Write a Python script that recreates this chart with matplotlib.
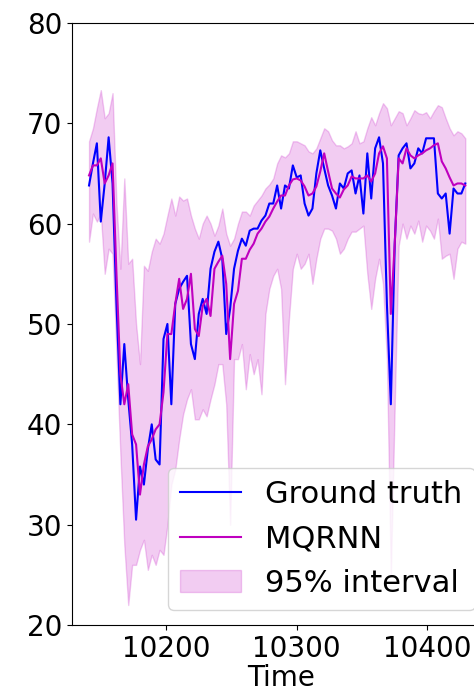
import numpy as np
import matplotlib
matplotlib.use('Agg')
import matplotlib.pyplot as plt

# time axis: one reading every 3 steps
time = np.arange(10141, 10430, 3)

ground_truth = [63.8, 66.0, 68.0, 60.2, 64.0, 68.6, 64.0, 52.0, 42.0, 48.0,
                42.5, 38.0, 30.5, 35.8, 34.0, 37.5, 40.0, 36.5, 36.0, 48.5,
                50.0, 42.0, 52.0, 53.5, 54.2, 54.8, 48.0, 46.5, 51.0, 52.5,
                51.0, 55.5, 57.2, 58.2, 56.5, 49.0, 51.5, 55.5, 57.3, 58.5,
                57.8, 59.3, 59.5, 59.5, 60.3, 60.8, 62.0, 62.0, 63.8, 61.5,
                63.8, 63.5, 65.8, 64.6, 64.8, 62.0, 60.8, 61.5, 65.0, 67.3,
                65.5, 63.8, 62.8, 61.5, 64.0, 63.5, 65.0, 65.3, 63.0, 64.8,
                61.0, 67.0, 62.5, 67.5, 68.6, 66.0, 52.0, 42.0, 58.0, 66.8,
                67.5, 68.0, 65.5, 66.0, 67.5, 67.0, 68.5, 68.5, 68.5, 63.0,
                62.5, 63.0, 59.0, 63.5, 63.0, 63.0, 64.0]

mqrnn = [64.8, 65.8, 65.8, 66.5, 64.0, 64.8, 66.0, 55.0, 45.0, 42.0,
         44.0, 39.0, 38.0, 33.0, 36.0, 37.8, 38.5, 39.5, 40.0, 43.2,
         49.0, 49.0, 52.0, 54.5, 51.5, 52.5, 55.0, 49.5, 48.8, 51.8,
         52.5, 50.8, 55.5, 56.2, 56.8, 54.0, 46.5, 52.0, 53.3, 56.5,
         56.5, 57.4, 58.0, 59.0, 59.5, 60.2, 60.7, 61.5, 62.2, 62.8,
         62.8, 63.8, 64.4, 64.5, 64.3, 63.7, 62.8, 63.0, 63.7, 65.2,
         67.0, 65.2, 63.5, 63.0, 62.6, 63.4, 63.8, 64.7, 64.5, 64.5,
         64.5, 64.8, 64.2, 65.0, 67.0, 67.7, 66.5, 51.0, 58.0, 66.5,
         66.0, 67.5, 66.8, 66.5, 66.8, 67.0, 67.3, 67.5, 67.8, 68.0,
         66.2, 65.5, 64.6, 63.8, 64.0, 64.0, 63.8]

upper = [68.2, 69.5, 71.5, 73.3, 70.5, 71.0, 73.0, 62.0, 55.5, 64.5,
         56.0, 56.5, 50.0, 46.0, 55.8, 55.3, 57.2, 58.5, 58.0, 59.0,
         60.8, 62.5, 60.8, 62.7, 62.3, 62.5, 60.8, 59.5, 58.5, 60.0,
         60.8, 60.0, 58.8, 59.8, 61.5, 59.0, 57.8, 58.5, 60.0, 61.2,
         61.2, 60.8, 61.8, 62.3, 62.8, 63.5, 63.9, 64.5, 66.0, 66.8,
         66.6, 67.0, 68.2, 68.2, 68.0, 67.8, 67.2, 67.0, 67.5, 68.5,
         69.5, 69.2, 68.3, 67.8, 67.8, 67.5, 67.7, 68.0, 69.2, 68.0,
         68.2, 69.5, 70.6, 69.8, 71.0, 72.0, 71.5, 69.8, 70.5, 71.2,
         71.0, 69.8, 70.5, 71.3, 71.0, 70.9, 71.1, 70.5, 71.2, 71.8,
         71.6, 70.5, 69.5, 68.8, 69.2, 69.0, 68.5]

lower = [58.2, 61.0, 60.2, 61.0, 55.0, 57.5, 57.0, 47.0, 37.0, 28.0,
         22.0, 26.0, 26.0, 27.5, 28.5, 25.5, 27.0, 26.0, 27.5, 27.0,
         30.0, 34.0, 35.5, 38.5, 41.0, 42.5, 43.5, 40.5, 40.5, 41.5,
         40.8, 42.5, 44.0, 46.0, 46.0, 42.0, 30.0, 46.5, 46.5, 48.0,
         43.5, 47.0, 45.0, 46.5, 43.0, 51.0, 53.5, 54.8, 55.5, 53.5,
         44.0, 50.5, 55.5, 57.0, 55.5, 56.0, 57.0, 54.0, 56.5, 58.5,
         59.5, 59.5, 59.3, 58.5, 57.0, 57.5, 58.5, 59.2, 59.2, 59.5,
         59.8, 55.0, 51.5, 54.5, 56.5, 54.0, 46.5, 25.0, 42.0, 57.8,
         60.0, 58.5, 59.8, 59.0, 60.3, 58.2, 59.8, 59.3, 58.5, 60.5,
         56.5, 56.8, 57.0, 54.5, 57.5, 58.2, 58.0]

fig = plt.figure(figsize=(4.74, 6.93), dpi=100)
# axes run past the right edge of the figure, like the cropped original
ax = fig.add_axes([0.152, 0.098, 0.882, 0.869])

ax.plot(time, ground_truth, color='b', lw=1.5, label='Ground truth')
ax.plot(time, mqrnn, color='m', lw=1.5, label='MQRNN')
ax.fill_between(time, lower, upper, color='m', alpha=0.2, label='95% interval')

ax.set_xlim(10128, 10448)
ax.set_ylim(20, 80)
ax.set_xticks([10200, 10300, 10400])
ax.tick_params(labelsize=20)
ax.set_xlabel('Time', fontsize=20, labelpad=1)
ax.legend(loc='lower right', fontsize=22)

fig.savefig('out.png', dpi=100)
